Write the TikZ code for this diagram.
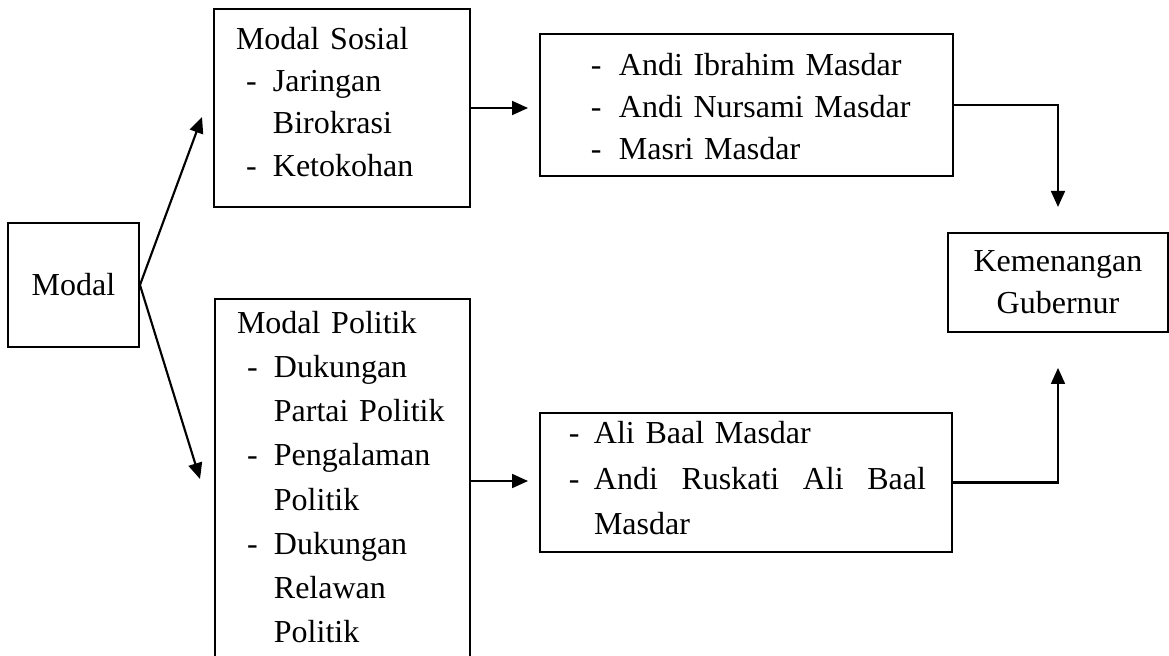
\documentclass[tikz,border=0pt]{standalone}
\usepackage{fontspec}
\setmainfont{Liberation Serif}
\usetikzlibrary{arrows.meta}
\newcommand{\butir}[2][10.1pt]{\makebox[#1][l]{-}\mbox{#2}}

\begin{document}
\begin{tikzpicture}[x=0.375pt,y=-0.375pt,
	font=\fontsize{12}{15.75}\selectfont,
	kotak/.style={draw,line width=0.75pt,inner sep=0pt},
	daftar/.style={kotak,align=left,anchor=north west},
	panah/.style={line width=0.8pt,-{Triangle[length=6pt,width=5.2pt]}}]
	\useasboundingbox (0,0) rectangle (1169,655);
	\clip (0,0) rectangle (1169,655);
	% kotak
	\node[kotak,minimum width=49.1pt,minimum height=46.5pt] (modal) at (73.5,285) {Modal};
	\node[daftar,minimum width=96pt,text width=79.5pt,text height=15pt,text depth=59.25pt,
		font=\fontsize{12}{15.9}\selectfont] (sosial) at (213,8)
		{Modal Sosial\\
		\hspace*{3.75pt}\butir{Jaringan}\\
		\hspace*{13.85pt}Birokrasi\\
		\hspace*{3.75pt}\butir{Ketokohan}};
	\node[daftar,minimum width=95.6pt,text width=79.1pt,text height=12.75pt,text depth=123.75pt,
		font=\fontsize{12}{16.6}\selectfont] (politik) at (214,298)
		{Modal Politik\\
		\hspace*{3.75pt}\butir{Dukungan}\\
		\hspace*{13.85pt}Partai Politik\\
		\hspace*{3.75pt}\butir{Pengalaman}\\
		\hspace*{13.85pt}Politik\\
		\hspace*{3.75pt}\butir{Dukungan}\\
		\hspace*{13.85pt}Relawan\\
		\hspace*{13.85pt}Politik};
	\node[daftar,minimum width=154.9pt,text width=120pt,text height=15.4pt,text depth=37.9pt] (masdarA) at (539,33)
		{\hspace*{1.65pt}\butir[10.5pt]{Andi Ibrahim Masdar}\\
		\hspace*{1.65pt}\butir[10.5pt]{Andi Nursami Masdar}\\
		\hspace*{1.65pt}\butir[10.5pt]{Masri Masdar}};
	\node[daftar,minimum width=154.5pt,text width=138.8pt,text height=11.6pt,text depth=40.5pt,
		font=\fontsize{12}{16.9}\selectfont] (masdarB) at (539,412)
		{\hspace*{3pt}\butir[9.4pt]{Ali Baal Masdar}\\
		\hspace*{3pt}\butir[9.4pt]{\makebox[124.5pt][l]{Andi\hfill Ruskati\hfill Ali\hfill Baal}}\\
		\hspace*{12.4pt}Masdar};
	\node[kotak,minimum width=82.5pt,minimum height=37.1pt,align=center] (menang) at (1058,282.5)
		{Kemenangan\\Gubernur};
	% panah
	\coordinate (ujungA) at (202,117);
	\coordinate (ujungB) at (200,479);
	\foreach \u in {ujungA,ujungB}
		\draw[panah] (modal.east) -- (\u);
	\draw[panah,shorten >=4.1pt] (sosial.east) -- (sosial.east -| masdarA.west);
	\draw[panah,shorten >=4.1pt] (politik.east) -- (politik.east -| masdarB.west);
	\draw[panah,shorten >=9.4pt] (masdarA.east) -| (menang.north);
	\draw[panah,shorten >=13.1pt] (masdarB.east) -| (menang.south);
\end{tikzpicture}
\end{document}
